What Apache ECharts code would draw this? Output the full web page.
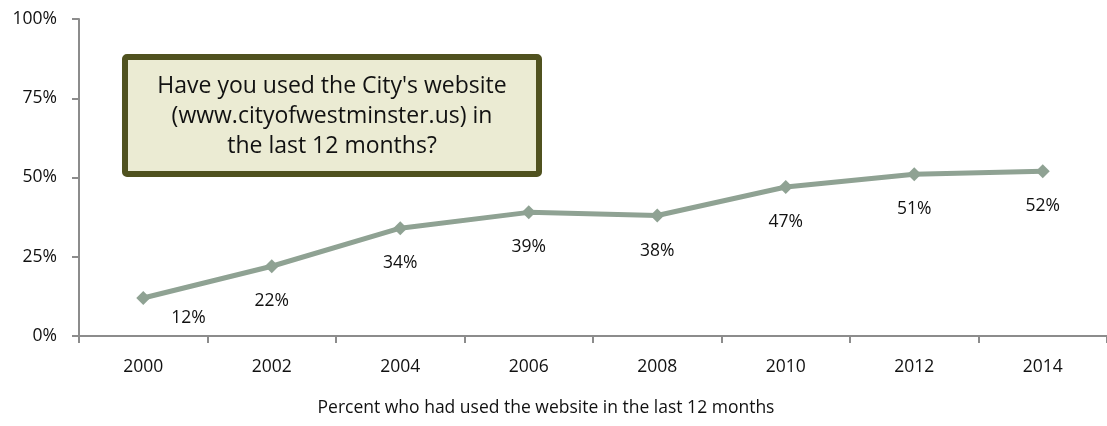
<!DOCTYPE html>
<html>
<head>
<meta charset="utf-8">
<script src="https://cdn.jsdelivr.net/npm/echarts@6/dist/echarts.min.js"></script>
<style>
  html, body { margin: 0; padding: 0; background: #fff; }
  #chart { width: 1107px; height: 426px; }
</style>
</head>
<body>
<div id="chart"></div>
<script>
// data
var years = ['2000', '2002', '2004', '2006', '2008', '2010', '2012', '2014'];
var usedWebsite = [12, 22, 34, 39, 38, 47, 51, 52];
var yTicks = [0, 25, 50, 75, 100];

var axisTitle = 'Percent who had used the website in the last 12 months';
var question = "Have you used the City's website\n(www.cityofwestminster.us) in\nthe last 12 months?";

(function () {
    "use strict";

    var font = '"Open Sans", "DejaVu Sans", sans-serif';
    var chart = echarts.init(document.getElementById('chart'), null, { renderer: 'canvas' });

    // first label sits to the right of its point, the rest straight below
    var seriesData = usedWebsite.map(function (v, i) {
        var item = { value: v };
        if (i === 0) {
            item.label = { position: 'right', offset: [2, 20] };
        }
        return item;
    });

    var option = {
        animation: false,
        grid: {
            left: 79,
            top: 19,
            width: 1037,
            height: 317,
            containLabel: false
        },
        xAxis: {
            type: 'category',
            data: years,
            boundaryGap: true,
            axisLine: { lineStyle: { color: '#8c8c8c', width: 2 } },
            axisTick: { show: true, length: 7, lineStyle: { color: '#8c8c8c', width: 2 } },
            axisLabel: { color: '#111', fontFamily: font, fontSize: 17.5, margin: 22 },
            splitLine: { show: false }
        },
        yAxis: {
            type: 'value',
            min: yTicks[0],
            max: yTicks[yTicks.length - 1],
            interval: 25,
            axisLine: { show: true, lineStyle: { color: '#8c8c8c', width: 2 } },
            axisTick: { show: true, length: 7, lineStyle: { color: '#8c8c8c', width: 2 } },
            axisLabel: {
                color: '#111', fontFamily: font, fontSize: 17.5, margin: 22,
                formatter: function (v) { return v + '%'; }
            },
            splitLine: { show: false }
        },
        series: [{
            type: 'line',
            data: seriesData,
            symbol: 'diamond',
            symbolSize: 14,
            lineStyle: { color: '#8fa293', width: 5 },
            itemStyle: { color: '#8fa293' },
            label: {
                show: true,
                position: 'bottom',
                distance: 19,
                color: '#111',
                fontFamily: font,
                fontSize: 17.5,
                formatter: function (p) { return p.value + '%'; }
            },
            z: 3
        }],
        graphic: [
            {
                type: 'rect',
                shape: { x: 125, y: 57, width: 414, height: 117, r: 2 },
                style: { fill: '#ebebd3', stroke: '#50521f', lineWidth: 6 },
                z: 10
            },
            {
                type: 'text',
                style: {
                    x: 332, y: 116,
                    text: question,
                    fill: '#111',
                    font: '23px ' + font,
                    align: 'center',
                    verticalAlign: 'middle',
                    lineHeight: 30
                },
                z: 11
            },
            {
                type: 'text',
                style: {
                    x: 546, y: 408,
                    text: axisTitle,
                    fill: '#111',
                    font: '17.5px ' + font,
                    align: 'center',
                    verticalAlign: 'middle'
                }
            }
        ]
    };

    chart.setOption(option);
})();
</script>
</body>
</html>
